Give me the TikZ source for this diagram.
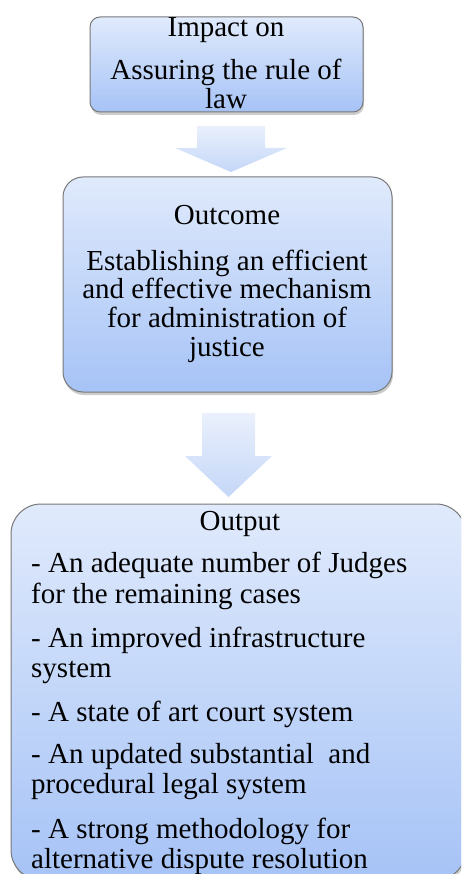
\documentclass[tikz,border=0pt]{standalone}
\usepackage{fontspec}
\setmainfont{Liberation Serif}
\usetikzlibrary{shadows,calc}
\definecolor{topc}{RGB}{224,234,252}
\definecolor{botc}{RGB}{166,195,246}
\definecolor{atop}{RGB}{234,240,252}
\definecolor{abot}{RGB}{196,215,248}
\definecolor{edge}{RGB}{120,120,120}
\tikzset{
  box/.style={draw=edge, line width=1pt, top color=topc, bottom color=botc,
    drop shadow={opacity=0.4, shadow xshift=1pt, shadow yshift=-3pt},
    inner sep=0pt, outer sep=0pt},
  txt/.style={font=\rmfamily\fontsize{29}{30}\selectfont, anchor=base, inner sep=0pt},
  ltxt/.style={font=\rmfamily\fontsize{29}{30}\selectfont, anchor=base west, inner sep=0pt},
  blockarrow/.style={top color=atop, bottom color=abot, draw=none}
}
\begin{document}
\begin{tikzpicture}[x=1pt,y=-1pt]
\useasboundingbox (0,0) rectangle (461,874);
\begin{scope}
\clip (0,0) rectangle (461,874);
% boxes
\node[box, rounded corners=10pt, minimum width=273pt, minimum height=95pt] (impact) at (226.5,64.5) {};
\node[box, rounded corners=20pt, minimum width=329pt, minimum height=215pt] (outcome) at (227.5,284.5) {};
\node[box, rounded corners=30pt, minimum width=455pt, minimum height=376pt] (output) at (238.5,692) {};
% block arrows
\coordinate (a1) at (231,126);
\path[blockarrow] ($(a1)+(-34,0)$) -- ($(a1)+(34,0)$) -- ($(a1)+(34,22)$) -- ($(a1)+(56,22)$)
  -- ($(a1)+(0,46)$) -- ($(a1)+(-56,22)$) -- ($(a1)+(-34,22)$) -- cycle;
\coordinate (a2) at (228.5,413);
\path[blockarrow] ($(a2)+(-26.5,0)$) -- ($(a2)+(26.5,0)$) -- ($(a2)+(26.5,43)$) -- ($(a2)+(43.5,43)$)
  -- ($(a2)+(0,84)$) -- ($(a2)+(-43.5,43)$) -- ($(a2)+(-26.5,43)$) -- cycle;
% texts top
\node[txt] (t1) at (226,37) {Impact on};
\node[txt] (t2) at (226,80) {Assuring the rule of};
\node[txt] (t3) at (226,109) {law};
% texts outcome
\node[txt] (o1) at (227,225) {Outcome};
\node[txt] (o2) at (227,270) {Establishing an efficient};
\node[txt] (o3) at (227,298.5) {and effective mechanism};
\node[txt] (o4) at (227,327) {for administration of};
\node[txt] (o5) at (227,356) {justice};
% texts output
\node[txt] (p0) at (240,530) {Output};
\node[ltxt] (p1) at (31,572) {- An adequate number of Judges};
\node[ltxt] (p2) at (31,603) {for the remaining cases};
\node[ltxt] (p3) at (31,647) {- An improved infrastructure};
\node[ltxt] (p4) at (31,677) {system};
\node[ltxt] (p5) at (31,721) {- A state of art court system};
\node[ltxt] (p6) at (31,763) {- An updated substantial\ \ and};
\node[ltxt] (p7) at (31,793) {procedural legal system};
\node[ltxt] (p8) at (31,838) {- A strong methodology for};
\node[ltxt] (p9) at (31,868) {alternative dispute resolution};
\end{scope}
\end{tikzpicture}
\end{document}
